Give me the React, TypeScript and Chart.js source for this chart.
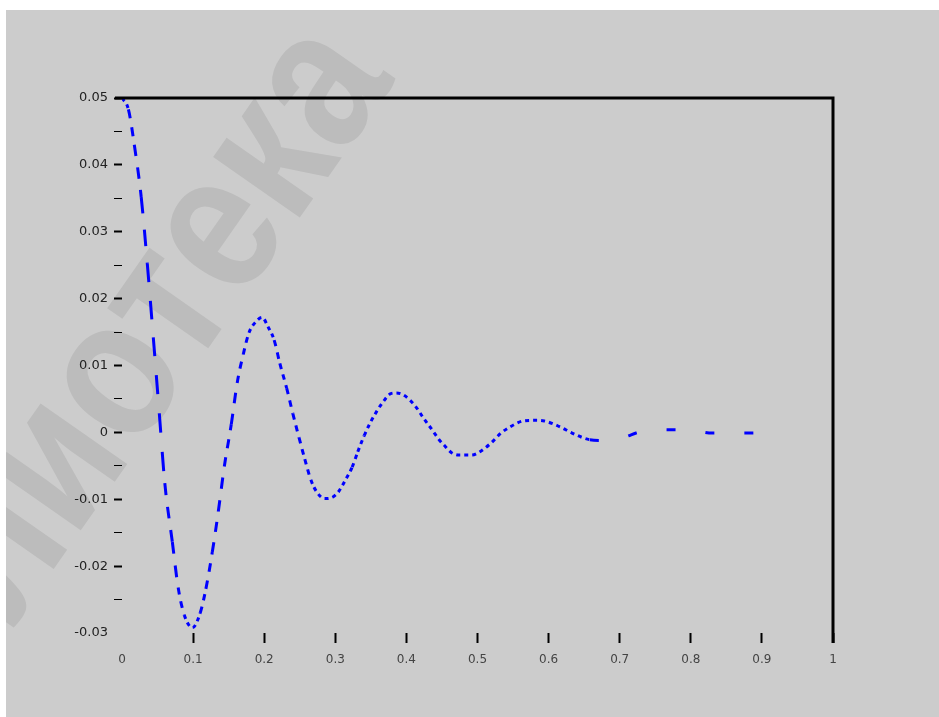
import React, { useEffect, useRef } from 'react';
import { Chart, registerables } from 'chart.js';

Chart.register(...registerables);

// Damped response samples: time (s) and amplitude
const timeValues = [
  0, 0.009, 0.0173, 0.027, 0.0356, 0.044, 0.0525, 0.0602, 0.0708, 0.079,
  0.0876, 0.099, 0.11, 0.118, 0.127, 0.1355, 0.1439, 0.1537, 0.162, 0.1706,
  0.1786, 0.188, 0.197, 0.2058, 0.214, 0.222, 0.2316, 0.2403, 0.249, 0.2571,
  0.2656, 0.2745, 0.285, 0.296, 0.305, 0.3143, 0.3237, 0.3316, 0.3406, 0.349,
  0.358, 0.3668, 0.378, 0.386, 0.3973, 0.412, 0.4237, 0.436, 0.446, 0.4547,
  0.463, 0.474, 0.4918, 0.5018, 0.519, 0.533, 0.5455, 0.564, 0.579, 0.594,
  0.6165, 0.633, 0.658, 0.674, 0.6906, 0.71, 0.723, 0.743, 0.775, 0.8035,
  0.83, 0.87, 0.925,
];

const amplitudeValues = [
  0.05, 0.0483, 0.043, 0.0352, 0.0252, 0.0142, 0.0028, -0.0076, -0.0164, -0.0232,
  -0.0273, -0.0292, -0.027, -0.0234, -0.0179, -0.0118, -0.0051, 0.0012, 0.0074, 0.0117,
  0.0149, 0.0165, 0.0172, 0.0157, 0.0138, 0.0103, 0.0066, 0.0028, -0.0008, -0.004,
  -0.0071, -0.009, -0.0099, -0.0097, -0.0088, -0.0071, -0.0052, -0.0029, -0.0005, 0.0014,
  0.0031, 0.0045, 0.0058, 0.0059, 0.0055, 0.004, 0.0022, 0.0004, -0.0011, -0.0021,
  -0.003, -0.0034, -0.0034, -0.003, -0.0016, -0.0001, 0.0008, 0.0017, 0.0018, 0.0017,
  0.0008, -0.0001, -0.0011, -0.0012, -0.0011, -0.0006, -0.0001, 0.0003, 0.0004, 0.0003,
  -0.0001, -0.0001, 0,
];

const xTickLabels = ['0', '0.1', '0.2', '0.3', '0.4', '0.5', '0.6', '0.7', '0.8', '0.9', '1'];
const yTickLabels = ['-0.03', '-0.02', '-0.01', '0', '0.01', '0.02', '0.03', '0.04', '0.05'];

const X_MIN = 0;
const X_MAX = 1;
const Y_MIN = -0.03;
const Y_MAX = 0.05;

const watermarkText = 'Библиотека';

const PANEL_GRAY = '#cccccc';

// Faint diagonal watermark drawn under everything else
const watermarkPlugin = {
  id: 'watermark',
  beforeDraw(chart: any) {
    const ctx = chart.ctx as CanvasRenderingContext2D;
    ctx.save();
    ctx.translate(390, 70);
    ctx.rotate((-55 * Math.PI) / 180);
    ctx.scale(0.85, 1);
    ctx.font = 'bold 200px "Liberation Sans", Arial, sans-serif';
    ctx.textAlign = 'right';
    ctx.textBaseline = 'alphabetic';
    ctx.fillStyle = '#bcbcbc';
    ctx.fillText(watermarkText, 0, 0);
    ctx.restore();
  },
};

// Heavy top and right box edges
const framePlugin = {
  id: 'frame',
  afterDraw(chart: any) {
    const { ctx, chartArea } = chart;
    const { left, right, top, bottom } = chartArea;
    ctx.save();
    ctx.strokeStyle = '#000';
    ctx.lineWidth = 3;
    ctx.beginPath();
    ctx.moveTo(left - 7, top);
    ctx.lineTo(right, top);
    ctx.moveTo(right, top - 1.5);
    ctx.lineTo(right, bottom + 10);
    ctx.stroke();
    ctx.restore();
  },
};

function dashFor(ctx: any): number[] {
  const p0 = ctx.p0;
  const p1 = ctx.p1;
  if (p0.parsed.x > 0.64) return [9, 30];
  const dx = Math.abs(p1.x - p0.x) || 0.001;
  const dy = Math.abs(p1.y - p0.y);
  const s = dy / dx;
  const period = Math.max(8, 3 * Math.sqrt(1 + s * s));
  return [period * 0.5, period * 0.5];
}

export default function App() {
  const canvasRef = useRef<HTMLCanvasElement | null>(null);

  useEffect(() => {
    if (!canvasRef.current) return;
    const points = timeValues.map((t, i) => ({ x: t, y: amplitudeValues[i] }));

    const chart = new Chart(canvasRef.current, {
      type: 'line',
      data: {
        datasets: [
          {
            data: points,
            borderColor: '#0000ff',
            borderWidth: 3,
            borderCapStyle: 'butt',
            pointRadius: 0,
            fill: false,
            cubicInterpolationMode: 'monotone',
            segment: {
              borderDash: dashFor,
            },
          },
        ],
      },
      options: {
        animation: false,
        responsive: false,
        devicePixelRatio: 1,
        layout: { padding: { top: 88, right: 106, left: 0, bottom: 0 } },
        plugins: {
          legend: { display: false },
          tooltip: { enabled: false },
        },
        scales: {
          x: {
            type: 'linear',
            min: X_MIN,
            max: X_MAX,
            border: { display: false },
            grid: {
              display: true,
              drawOnChartArea: false,
              drawTicks: true,
              tickLength: 10,
              tickWidth: 2,
              tickColor: (c: any) =>
                c.tick && Math.abs(c.tick.value) < 1e-9 ? 'rgba(0,0,0,0)' : '#000',
            },
            ticks: {
              stepSize: 0.1,
              padding: 10,
              maxRotation: 0,
              autoSkip: false,
              color: '#444',
              font: { family: '"DejaVu Sans", sans-serif', size: 12 },
              callback: (v: any) => {
                const i = Math.round(Number(v) * 10);
                return xTickLabels[i] ?? '';
              },
            },
            afterFit: (scale: any) => {
              scale.height = 84;
            },
          },
          y: {
            type: 'linear',
            min: Y_MIN,
            max: Y_MAX,
            border: { display: false },
            grid: {
              display: true,
              drawOnChartArea: false,
              drawTicks: true,
              tickLength: 8,
              tickWidth: (c: any) => {
                const k = Math.round(Number(c.tick?.value) * 1000);
                return k % 10 === 0 ? 2 : 1;
              },
              tickColor: (c: any) => {
                const k = Math.round(Number(c.tick?.value) * 1000);
                return k === -30 ? 'rgba(0,0,0,0)' : '#000';
              },
            },
            ticks: {
              stepSize: 0.005,
              padding: 6,
              autoSkip: false,
              color: '#222',
              font: { family: '"DejaVu Sans", sans-serif', size: 13 },
              callback: (v: any) => {
                const k = Math.round(Number(v) * 1000);
                if (k % 10 !== 0) return '';
                const i = Math.round((k + 30) / 10);
                return yTickLabels[i] ?? '';
              },
            },
            afterFit: (scale: any) => {
              scale.width = 116;
            },
          },
        },
      },
      plugins: [watermarkPlugin, framePlugin],
    } as any);

    return () => chart.destroy();
  }, []);

  return (
    <div style={{ position: 'fixed', inset: 0, background: '#ffffff' }}>
      <div
        style={{
          position: 'absolute',
          left: 6,
          top: 10,
          width: 933,
          height: 707,
          background: PANEL_GRAY,
        }}
      >
        <canvas ref={canvasRef} width={933} height={707} style={{ display: 'block' }} />
      </div>
    </div>
  );
}
